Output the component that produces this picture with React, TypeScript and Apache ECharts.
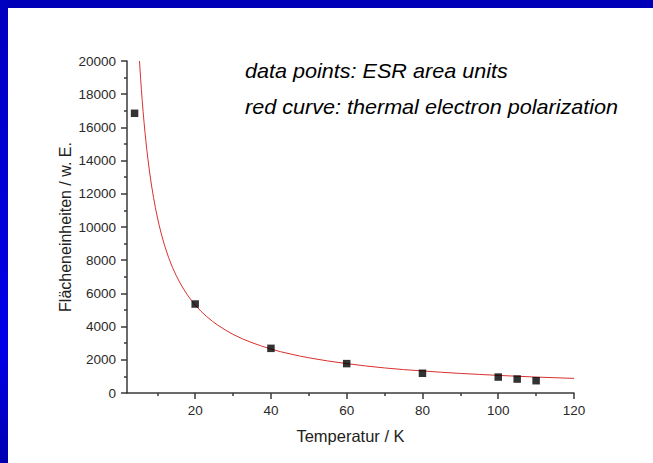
import React, { useEffect, useRef } from "react";
import * as echarts from "echarts";

const pointT = [4, 20, 40, 60, 80, 100, 105, 110];
const pointArea = [16850, 5360, 2690, 1770, 1190, 960, 840, 740];

const curveT = [5.3, 5.45, 5.6, 5.8, 6, 6.25, 6.5, 6.75, 7, 7.25, 7.5, 7.75, 8, 8.5, 9, 9.5, 10, 10.5, 11, 11.5, 12, 13, 14, 15, 16, 17, 18, 19, 20, 21.5, 23, 24.5, 26, 28, 30, 32.5, 35, 37.5, 40, 42.5, 45, 47.5, 50, 55, 60, 65, 70, 75, 80, 85, 90, 95, 100, 105, 110, 115, 120];
const curveArea = [20000, 19450, 18930, 18280, 17670, 16960, 16310, 15700, 15140, 14620, 14130, 13680, 13250, 12470, 11780, 11160, 10600, 10100, 9640, 9220, 8830, 8150, 7570, 7070, 6630, 6240, 5890, 5580, 5300, 4930, 4610, 4330, 4080, 3790, 3530, 3260, 3030, 2830, 2650, 2490, 2360, 2230, 2120, 1930, 1770, 1630, 1510, 1410, 1330, 1250, 1180, 1120, 1060, 1010, 960, 920, 880];

const xMajorTicks = [20, 40, 60, 80, 100, 120];
const xMinorTicks = [10, 30, 50, 70, 90, 110];

const noteLines = ["data points: ESR area units", "red curve: thermal electron polarization"];

const FONT = '"Liberation Sans", Arial, sans-serif';
const AXIS = "#3a3a3a";

export default function App() {
  const ref = useRef<HTMLDivElement>(null);
  useEffect(() => {
    if (!ref.current) return;
    const chart = echarts.init(ref.current, undefined, { renderer: "svg" });
    chart.setOption({
      animation: false,
      grid: { left: 127, right: 79, top: 61, bottom: 70 },
      xAxis: [
        {
          type: "value",
          min: 2,
          max: 120,
          position: "bottom",
          axisLine: { show: true, lineStyle: { color: AXIS, width: 1.5 } },
          axisTick: { show: true, customValues: xMajorTicks, length: 6, lineStyle: { color: AXIS, width: 1.5 } },
          axisLabel: { customValues: xMajorTicks, fontSize: 13.5, color: "#2a2a2a", margin: 10, fontFamily: FONT },
          splitLine: { show: false },
          name: "Temperatur / K",
          nameLocation: "middle",
          nameGap: 34,
          nameMoveOverlap: false,
          nameTextStyle: { fontSize: 16.5, color: "#222", fontFamily: FONT },
        },
        {
          type: "value",
          min: 2,
          max: 120,
          position: "bottom",
          axisLine: { show: false },
          axisTick: { show: true, customValues: xMinorTicks, length: 3, lineStyle: { color: AXIS, width: 1.5 } },
          axisLabel: { show: false },
          splitLine: { show: false },
        },
      ],
      yAxis: {
        type: "value",
        min: 0,
        max: 20000,
        interval: 2000,
        axisLine: { show: true, lineStyle: { color: AXIS, width: 1.5 } },
        axisTick: { show: true, length: 6, lineStyle: { color: AXIS, width: 1.5 } },
        minorTick: { show: true, splitNumber: 2, length: 3, lineStyle: { color: AXIS, width: 1.5 } },
        axisLabel: { fontSize: 13.5, color: "#2a2a2a", margin: 11, fontFamily: FONT, formatter: (v: number) => String(v) },
        splitLine: { show: false },
        minorSplitLine: { show: false },
        name: "Flächeneinheiten / w. E.",
        nameLocation: "middle",
        nameGap: 54,
        nameMoveOverlap: false,
        nameTextStyle: { fontSize: 16, color: "#222", fontFamily: FONT },
      },
      graphic: noteLines.map((t, i) => ({
        type: "text",
        x: 245,
        y: 71 + i * 36,
        scaleX: 1.08,
        style: { text: t, font: `italic 20px ${FONT}`, fill: "#000", verticalAlign: "middle" },
      })),
      series: [
        {
          type: "line",
          xAxisIndex: 0,
          data: curveT.map((t, i) => [t, curveArea[i]]),
          smooth: false,
          showSymbol: false,
          lineStyle: { color: "#d83030", width: 1 },
          z: 2,
        },
        {
          type: "scatter",
          xAxisIndex: 0,
          data: pointT.map((t, i) => [t, pointArea[i]]),
          symbol: "rect",
          symbolSize: 7.5,
          itemStyle: { color: "#000" },
          z: 3,
        },
      ],
    });
    return () => chart.dispose();
  }, []);

  return (
    <div style={{ position: "absolute", left: 0, top: 0, width: 653, height: 463, background: "#fff", overflow: "hidden" }}>
      <div style={{ position: "absolute", left: 0, top: 0, width: 653, height: 8, background: "#0000b8" }} />
      <div
        style={{
          position: "absolute",
          left: 0,
          top: 0,
          width: 8,
          height: 463,
          background: "linear-gradient(to bottom, #0000c0, #0000e8 75%, #0000b0)",
        }}
      />
      <div ref={ref} style={{ position: "absolute", left: 0, top: 0, width: 653, height: 463 }} />
    </div>
  );
}
